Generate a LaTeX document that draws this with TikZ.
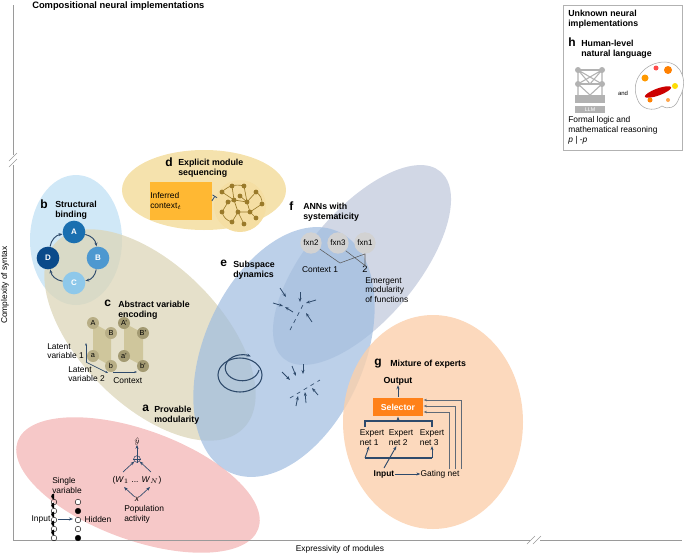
\documentclass[tikz,border=0pt]{standalone}
\usepackage{fontspec}
\setmainfont{Liberation Sans}
\usetikzlibrary{arrows.meta}
\definecolor{ink}{HTML}{2E4A6B}
\definecolor{axisc}{HTML}{9A9A9A}
\definecolor{cb}{HTML}{C8E4F6}
\definecolor{cc}{HTML}{DCD6B8}
\definecolor{cd}{HTML}{F3DB98}
\definecolor{cf}{HTML}{C6CDDF}
\definecolor{ce}{HTML}{9FBCE0}
\definecolor{ca}{HTML}{F2B0B0}
\definecolor{cg}{HTML}{FBD0AC}
\definecolor{bA}{HTML}{1A6FB0}
\definecolor{bB}{HTML}{4D98D0}
\definecolor{bC}{HTML}{8EC8EA}
\definecolor{bD}{HTML}{0A4A8A}
\definecolor{cir}{HTML}{B8AE86}
\definecolor{cir2}{HTML}{A39A72}
\definecolor{par}{HTML}{CFC69C}
\definecolor{net}{HTML}{9A7A2A}
\begin{document}
\begin{tikzpicture}[x=0.75pt,y=-0.75pt,
  lab/.style={font=\fontsize{6.6}{7.6}\selectfont\bfseries,align=left,anchor=north west,inner sep=0},
  let/.style={font=\fontsize{9}{9}\selectfont\bfseries,anchor=north west,inner sep=0},
  txt/.style={font=\fontsize{6.3}{7.4}\selectfont,align=left,inner sep=0},
  arr/.style={-{Stealth[length=3pt]},ink,line width=0.7pt},
  bcirc/.style={circle,minimum size=17pt,inner sep=0,text=white,font=\fontsize{6}{6}\selectfont\bfseries},
  ccirc/.style={circle,fill=#1,minimum size=9pt,inner sep=0,font=\fontsize{5.5}{5.5}\selectfont},
  fcirc/.style={circle,fill=gray!35,minimum size=16pt,inner sep=0,font=\fontsize{6}{6}\selectfont}]
\useasboundingbox (0,0) rectangle (685,554);
% ellipses
\fill[cb,opacity=0.85] (76,240) ellipse [x radius=46,y radius=65];
\fill[cc,opacity=0.75,rotate around={-45:(150,335)}] (150,335) ellipse [x radius=132,y radius=70];
\fill[cd,opacity=0.8] (204,190) ellipse [x radius=82,y radius=40];
\fill[cf,opacity=0.8,rotate around={50:(362,265)}] (362,265) ellipse [x radius=122,y radius=55];
\fill[ce,opacity=0.7,rotate around={66:(284,352)}] (284,352) ellipse [x radius=132,y radius=80];
\fill[ca,opacity=0.7,rotate around={-20:(138,485)}] (138,485) ellipse [x radius=128,y radius=55];
\fill[cg,opacity=0.8] (433,422) ellipse [x radius=90,y radius=107];
% axes
\draw[axisc,line width=0.6pt] (13,5) -- (13,155) (13,165) -- (13,540) -- (530,540) (540,540) -- (682,540);
\draw[axisc] (9,161) -- (17,153) (9,167) -- (17,159);
\draw[axisc] (527,544) -- (535,536) (533,544) -- (541,536);
\node[txt,rotate=90,font=\fontsize{6.3}{7}\selectfont] (ya) at (5,285) {Complexity of syntax};
\node[txt] (xa) at (340,549) {Expressivity of modules};
\node[lab,font=\fontsize{7}{8}\selectfont\bfseries] (title) at (32,1) {Compositional neural implementations};
% h box
\draw[gray!60,fill=white] (563,5) rectangle (682,150);
\node[lab] (hunk) at (568,10) {Unknown neural\\implementations};
\node[let] (hl) at (568,38) {h};
\node[lab] (ht) at (581,40) {Human-level\\natural language};
\fill[gray!60] (575,95) rectangle (605,103);
\fill[gray!60] (575,106) rectangle (605,113);
\node[font=\fontsize{4}{4}\selectfont,white] (llm) at (590,109.5) {LLM};
\foreach \y in {70,84}{\fill[gray!60] (578,\y) circle (3); \fill[gray!60] (602,\y) circle (3); \draw[gray!60,line width=0.8pt] (578,\y)--(602,\y);}
\draw[gray!60,line width=0.8pt] (578,70)--(578,95) (602,70)--(602,95) (578,84)--(590,95)--(602,84) (578,70)--(602,84) (602,70)--(578,84) (578,70)--(590,84) (602,70)--(590,84);
\node[txt,font=\fontsize{4.5}{4.5}\selectfont] (and) at (623,93) {and};
\draw[gray!70,fill=white] (637,98) .. controls (630,80) and (645,62) .. (665,62) .. controls (684,63) and (688,85) .. (679,98) .. controls (676,108) and (668,110) .. (662,106) .. controls (654,112) and (640,110) .. (637,98);
\fill[orange!80!yellow] (645,78) circle (3.5); \fill[red!80!black,rotate around={20:(658,92)}] (658,92) ellipse [x radius=14,y radius=3.5];
\fill[orange] (668,70) circle (4); \fill[yellow!80!orange] (675,86) circle (3); \fill[orange] (650,100) circle (2.5); \fill[red!70] (656,68) circle (2.5); \fill[orange!70] (668,100) circle (2);
\node[txt,anchor=north west] (formal) at (568,116) {Formal logic and\\mathematical reasoning\\\textit{p} | -\textit{p}};
% b
\node[let] (bl) at (40,200) {b};
\node[lab] (bt) at (55,201) {Structural\\binding};
\node[bcirc,fill=bA] (A) at (74,232) {A};
\node[bcirc,fill=bB] (B) at (98,258) {B};
\node[bcirc,fill=bC] (C) at (74,283) {C};
\node[bcirc,fill=bD] (D) at (48,258) {D};
\draw[arr] (A) to[bend left=35] (B);
\draw[arr] (B) to[bend left=35] (C);
\draw[arr] (C) to[bend left=35] (D);
\draw[arr] (D) to[bend left=35] (A);
% d
\node[let] (dl) at (165,158) {d};
\node[lab] (dt) at (178,159) {Explicit module\\sequencing};
\node[fill=orange!70!yellow!80,minimum height=28,inner sep=3pt,txt,anchor=north west,text width=46] (ic) at (150,182) {Inferred\\context$_t$};
\fill[orange!40!yellow!60!brown!40] (240,206) circle (26);
\draw[ink,line width=0.6pt,-{Bar[width=4pt]}] (ic.east) -- (215,196);
\foreach \p/\q in {222/192,232/186,244/186,256/192,262/204,256/218,244/224,232/222,222/212,234/200,247/202,238/212,228/202,250/212,240/196}{\fill[net] (\p,\q) circle (2.4);}
\draw[net,line width=0.5pt] (222,192)--(234,200)--(247,202)--(256,192) (232,186)--(234,200)--(238,212)--(244,224) (244,186)--(247,202)--(250,212)--(256,218) (222,212)--(228,202)--(234,200) (232,222)--(238,212)--(250,212)--(262,204) (222,192) to[bend left] (244,186) (256,192) to[bend left] (262,204) (232,222) to[bend left] (222,212) (240,196)--(247,202);
% f
\node[let] (fl) at (289,202) {f};
\node[lab] (ft) at (303,203) {ANNs with\\systematicity};
\node[fcirc] (f2) at (311,243) {fxn2};
\node[fcirc] (f3) at (338,243) {fxn3};
\node[fcirc] (f1) at (365,243) {fxn1};
\node[txt] (ctx1) at (320,270) {Context 1};
\node[txt,font=\fontsize{7}{7}\selectfont] (two) at (365,269) {2};
\draw[gray!70!black,line width=0.4pt] (f2) -- (340,263) -- (f1.south) -- (two.north) -- (f3.south east);
\node[txt,anchor=north west] (em) at (365,277) {Emergent\\modularity\\of functions};
% e
\node[let] (el) at (220,260) {e};
\node[lab] (et) at (233,261) {Subspace\\dynamics};
\draw[ink,line width=0.8pt] (240,375) ellipse [x radius=22,y radius=17];
\draw[ink,line width=0.8pt,-{Stealth[length=3pt]}] (259,370) arc[start angle=10,end angle=300,x radius=17,y radius=13];
\draw[ink,dashed,line width=0.5pt] (290,330) -- (303,305) (290,398) -- (320,380);
\foreach \a/\b/\c/\d in {273/303/283/306, 280/288/286/297, 293/312/285/307, 316/300/306/303, 312/322/306/313, 300/292/300/302, 282/372/290/380, 292/366/296/376, 303/364/303/374, 318/395/312/388, 306/403/305/392, 296/406/298/396}{\draw[arr,line width=0.6pt] (\a,\b) -- (\c,\d);}
% c
\node[let] (cl) at (104,300) {c};
\node[lab] (ct) at (118,301) {Abstract variable\\encoding};
\fill[par] (93,323) -- (111,333) -- (111,366) -- (93,356) -- cycle;
\fill[par] (124,323) -- (143,333) -- (143,366) -- (124,356) -- cycle;
\node[ccirc=cir] (cA) at (93,323) {A};
\node[ccirc=cir] (cB) at (111,333) {B};
\node[ccirc=cir2] (cA2) at (124,323) {A'};
\node[ccirc=cir2] (cB2) at (143,333) {B'};
\node[ccirc=cir] (ca) at (93,356) {a};
\node[ccirc=cir] (cb) at (111,366) {b};
\node[ccirc=cir2] (ca2) at (124,356) {a'};
\node[ccirc=cir2] (cb2) at (143,366) {b'};
\coordinate (org) at (86,362);
\coordinate (v1) at (86,343);
\coordinate (v2) at (108,373);
\coordinate (cx1) at (113,372);
\coordinate (cx2) at (137,372);
\draw[ink,line width=0.5pt,-{Stealth[length=2pt]}] (org) -- (v1);
\draw[ink,line width=0.5pt,-{Stealth[length=2pt]}] (org) -- (v2);
\draw[ink,line width=0.5pt,-{Stealth[length=2pt]}] (cx1) -- (cx2);
\node[txt,anchor=north east] (lv1) at (84,343) {Latent\\variable 1};
\node[txt,anchor=north west] (lv2) at (68,366) {Latent\\variable 2};
\node[txt,anchor=north west] (ctxl) at (113,377) {Context};
% a
\node[let] (al) at (142,405) {a};
\node[lab] (at) at (154,406) {Provable\\modularity};
\node[txt] (yh) at (137,441) {$\hat{y}$};
\node[circle,draw=ink,inner sep=0,minimum size=5pt] (plus) at (137,459) {};
\draw[ink,line width=0.3pt] (plus.north) -- (plus.south) (plus.west) -- (plus.east);
\node[txt] (W) at (137,480) {(\textit{W}$_1$ ... \textit{W}$_N$)};
\node[txt,font=\fontsize{6.3}{6.3}\selectfont\itshape] (xx) at (137,499) {x};
\node[txt,anchor=north west] (pop) at (124,505) {Population\\activity};
\draw[arr,line width=0.5pt] (plus) -- (yh);
\draw[arr,line width=0.5pt] (123,472) -- (plus);
\draw[arr,line width=0.5pt] (151,472) -- (plus);
\draw[arr,line width=0.5pt] (xx) -- (124,487);
\draw[arr,line width=0.5pt] (xx) -- (150,487);
\node[txt,anchor=north west] (sv) at (52,477) {Single\\variable};
\foreach \y in {502,511,520,529,538}{\draw[black,line width=0.3pt] (54,\y) circle (2.8);\fill[black] (54,\y) ++(0,-2.8) arc[start angle=90,end angle=270,radius=2.8] -- cycle;}
\foreach \y/\f in {502/white,511/black,520/white,529/white,538/black}{\draw[black,fill=\f,line width=0.3pt] (78,\y) circle (2.8);}
\node[txt] (inp) at (41,519) {Input};
\node[txt] (hid) at (98,519) {Hidden};
\draw[arr,line width=0.5pt] (58,519) -- (73,519);
% g
\node[let] (gl) at (374,359) {g};
\node[lab] (gt) at (390,360) {Mixture of experts};
\node[lab,anchor=center] (out) at (398,381) {Output};
\node[fill=orange!90!red!90,text=white,font=\fontsize{6.5}{6.5}\selectfont\bfseries,minimum width=38,minimum height=14,inner sep=0] (sel) at (398,407) {Selector};
\node[txt,align=left] (e1) at (372,438) {Expert\\net 1};
\node[txt,align=left] (e2) at (401,438) {Expert\\net 2};
\node[txt,align=left] (e3) at (432,438) {Expert\\net 3};
\node[txt,font=\fontsize{6.3}{6.3}\selectfont\bfseries] (gin) at (384,474) {Input};
\node[txt] (gate) at (440,474) {Gating net};
\draw[arr] (sel) -- (out);
\draw[ink,line width=0.9pt] (365,427) -- (365,421) -- (432,421) -- (432,427);
\draw[arr] (398,421) -- (sel);
\draw[ink,line width=0.9pt] (365,458) -- (432,458);
\draw[arr] (365,458) -- (e1);
\draw[arr] (384,468) -- (e2);
\draw[arr] (432,458) -- (e3);
\draw[arr,line width=0.5pt] (gin) -- (gate);
\foreach \x/\y in {449/412,455/406,461/400}{\draw[gray!60!ink,line width=0.6pt,-{Stealth[length=2.5pt]}] (\x,469) -- (\x,\y) -- (sel.east |- 0,\y);}
\end{tikzpicture}
\end{document}
